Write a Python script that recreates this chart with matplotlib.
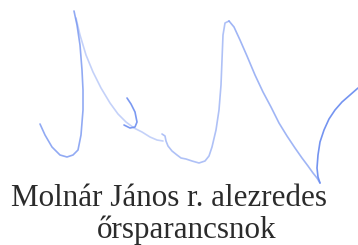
import matplotlib
matplotlib.use("Agg")
import matplotlib.pyplot as plt

# signature strokes traced in pixel coordinates (x, y from top-left)
stroke_hook_x = [40, 45, 52, 60, 67, 73, 78, 81, 83, 83, 82, 80, 77, 74]
stroke_hook_y = [124, 135, 147, 155, 157, 155, 150, 135, 110, 90, 70, 45, 25, 11]
stroke_long_x = [76, 80, 86, 93, 101, 110, 118, 126, 134, 142, 150, 157, 163]
stroke_long_y = [18, 35, 55, 72, 88, 103, 114, 122, 128, 132, 137, 140, 141]
stroke_j_x = [127, 131, 135, 137, 135, 130, 124]
stroke_j_y = [98, 104, 112, 122, 127, 128, 125]
stroke_mid_x = [162, 165, 166, 168, 172, 177, 181, 186, 192, 199, 205, 209, 212, 216, 219, 221, 222, 223, 225, 229]
stroke_mid_y = [134, 136, 141, 146, 151, 155, 158, 159, 161, 163, 161, 156, 147, 130, 110, 85, 60, 35, 23, 21]
stroke_down_x = [229, 234, 240, 247, 255, 263, 271, 279, 287, 295, 302, 308, 313, 317, 320]
stroke_down_y = [21, 27, 40, 56, 75, 92, 107, 123, 136, 148, 158, 166, 173, 178, 183]
stroke_right_x = [358, 350, 342, 335, 329, 324, 320, 318, 317, 318, 320]
stroke_right_y = [88, 95, 102, 110, 119, 130, 142, 155, 168, 177, 183]

name_line = "Molnár János r. alezredes"
rank_line = "őrsparancsnok"

fig = plt.figure(figsize=(3.58, 2.45), dpi=100)
ax = fig.add_axes([0, 0, 1, 1])
ax.set_xlim(0, 358)
ax.set_ylim(245, 0)
ax.axis("off")

ink = "#6d8ef0"
for xs, ys, a in [(stroke_hook_x, stroke_hook_y, 0.75), (stroke_long_x, stroke_long_y, 0.4),
                  (stroke_j_x, stroke_j_y, 0.9), (stroke_mid_x, stroke_mid_y, 0.55),
                  (stroke_down_x, stroke_down_y, 0.65), (stroke_right_x, stroke_right_y, 0.95)]:
    ax.plot(xs, ys, color=ink, lw=1.2, alpha=a, solid_capstyle="round", solid_joinstyle="round")

ax.text(11, 206, name_line, family="Liberation Serif", fontsize=22.4, color="#2b2b2b", va="baseline")
ax.text(97, 238, rank_line, family="Liberation Serif", fontsize=22.4, color="#2b2b2b", va="baseline")

fig.savefig("out.png", dpi=100)
